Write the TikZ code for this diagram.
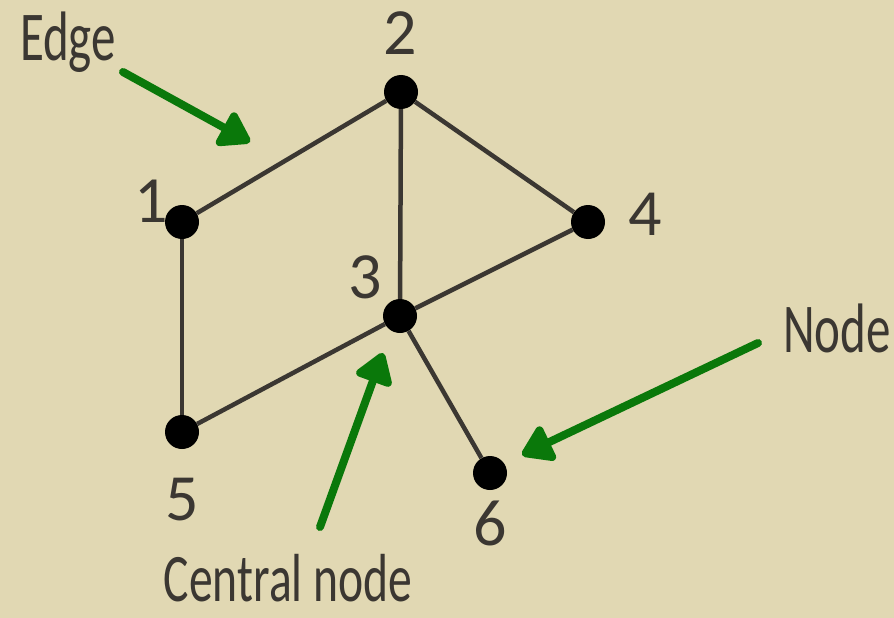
\documentclass[tikz,border=0pt]{standalone}
\usepackage{fontspec,graphicx}
\setmainfont{Carlito}
\usetikzlibrary{arrows.meta}
\definecolor{paper}{HTML}{E1D8B3}
\definecolor{ink}{HTML}{3B3732}
\definecolor{Gc}{HTML}{0A780A}
\tikzset{
  vtx/.style={circle, fill=black, inner sep=0pt, minimum size=34pt},
  num/.style={anchor=base, inner sep=0pt, text=ink, font=\fontsize{66}{66}\selectfont},
  word/.style={anchor=base, inner sep=0pt, text=ink, font=\fontsize{70}{70}\selectfont},
  link/.style={ink, line width=4.5pt},
  point/.style={Gc, line width=8pt, line cap=round, -{Triangle[length=34pt,width=42pt,round]}},
}
\newcommand{\squeeze}[1]{\scalebox{0.7}[1]{#1}}

\begin{document}
\begin{tikzpicture}[x=1pt,y=-1pt]
  \fill[paper] (0,0) rectangle (894,618);
  \useasboundingbox (0,0) rectangle (894,618);
  % vertices
  \node[vtx] (n1) at (182,222) {};
  \node[vtx] (n2) at (401,92) {};
  \node[vtx] (n3) at (400,316) {};
  \node[vtx] (n4) at (588,222) {};
  \node[vtx] (n5) at (182,432) {};
  \node[vtx] (n6) at (490,473) {};
  \draw[link] (n1) -- (n2);
  \draw[link] (n1) -- (n5);
  \draw[link] (n2) -- (n3);
  \draw[link] (n2) -- (n4);
  \draw[link] (n3) -- (n4);
  \draw[link] (n3) -- (n5);
  \draw[link] (n3) -- (n6);
  % numbers
  \node[num] (l1) at (151,222) {1};
  \node[num] (l2) at (400,55) {2};
  \node[num] (l3) at (365,298) {3};
  \node[num] (l4) at (645,235) {4};
  \node[num] (l5) at (182,520) {5};
  \node[num] (l6) at (490,545) {6};
  % callouts
  \node[word] (tEdge) at (68,60) {\squeeze{Edge}};
  \node[word] (tNode) at (837,352) {\squeeze{Node}};
  \node[word, font=\fontsize{68}{68}\selectfont] (tCentral) at (288,601) {\squeeze{Central node}};
  \coordinate (eFrom) at (123,72);
  \coordinate (eTo) at (250,142);
  \coordinate (nFrom) at (758,343);
  \coordinate (nTo) at (522,455);
  \coordinate (cFrom) at (320,527);
  \coordinate (cTo) at (383,353);
  \draw[point] (eFrom) -- (eTo);
  \draw[point] (nFrom) -- (nTo);
  \draw[point] (cFrom) -- (cTo);
\end{tikzpicture}
\end{document}
